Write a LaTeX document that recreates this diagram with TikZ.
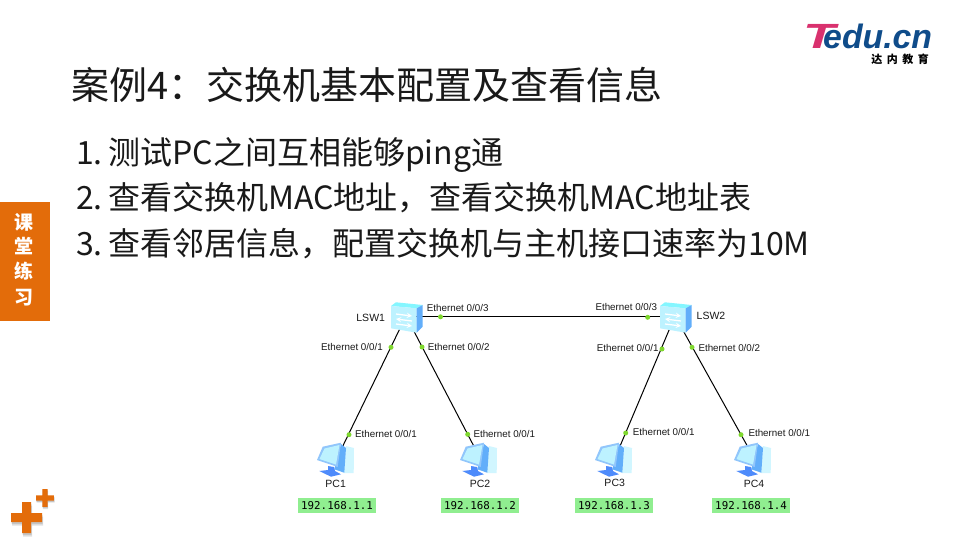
\documentclass[tikz,border=0pt]{standalone}
\usepackage{fontspec}
\usepackage{xcolor}
\setmainfont{Noto Sans CJK SC}
\newfontfamily\arialfont{Liberation Sans}
\newfontfamily\monofont{DejaVu Sans Mono}
\definecolor{sideorange}{HTML}{E36C0A}
\definecolor{ipgreen}{HTML}{90EE90}
\definecolor{portgreen}{HTML}{7FD82E}
\definecolor{logoblue}{HTML}{0F4C8A}
\definecolor{logopink}{HTML}{D9316E}
\definecolor{iconblue}{HTML}{62AEFA}
\definecolor{iconcyan}{HTML}{BDF2FF}
\tikzset{
  line/.style={draw=black,line width=1pt},
  port/.style={circle,fill=portgreen,inner sep=0pt,minimum size=5pt},
  ethlabel/.style={anchor=west,inner sep=0pt,font=\arialfont\fontsize{9.8}{10}\selectfont,text=black!90},
  devlabel/.style={inner sep=0pt,font=\arialfont\fontsize{10.5}{11}\selectfont,text=black!90},
  ipbox/.style={fill=ipgreen,minimum width=78pt,minimum height=15pt,inner sep=0pt,font=\monofont\fontsize{10.8}{11}\selectfont},
  device/.style={inner sep=0pt,minimum size=2pt},
  listline/.style={anchor=base west,inner sep=0pt,font=\fontsize{32}{34}\selectfont,text=black!90},
  sidechar/.style={inner sep=0pt,text=white,font=\bfseries\fontsize{19}{20}\selectfont},
  switchicon/.pic={
    \fill[iconcyan!70!cyan] (-10,-13.7) -- (16.7,-11) -- (10.7,-7.7) -- (-15,-10) -- cycle;
    \fill[iconcyan] (-15,-10) -- (10.7,-7.7) -- (10.7,16.7) -- (-15,12.3) -- cycle;
    \fill[iconblue] (10.7,-7.7) -- (16.7,-11) -- (16.7,10.7) -- (10.7,16.7) -- cycle;
    \draw[white,line width=1.3pt,-stealth] (-10,-2) -- (6,0);
    \draw[white,line width=1.3pt,stealth-] (-10,3) -- (6,5);
    \draw[white,line width=1.3pt,-stealth] (-10,8) -- (6,10);
  },
  pcicon/.pic={
    % tower
    \fill[iconcyan!70!white] (9,-12) -- (17,-10) -- (16.7,15) -- (7,15) -- cycle;
    \fill[iconblue] (4,-14) -- (9,-10) -- (7.3,14.7) -- (-2.7,11.3) -- cycle;
    % stand
    \fill[iconblue!80!blue] (-9,8) -- (-3,9) -- (-2,13) -- (4,16.3) -- (-6,18.7) -- (-17.7,13) -- (-9,12) -- cycle;
    % monitor
    \fill[iconblue!70] (-14.3,-11.3) -- (4,-15.3) -- (0.7,9) -- (-20,2) -- cycle;
    \fill[iconcyan] (-12.5,-9.5) -- (2.5,-13) -- (-1,6.5) -- (-17.5,1) -- cycle;
  },
  crossshape/.pic={
    \fill[black,opacity=0.12] (-14.5,-1) -- ++(11,0) -- ++(0,-11) -- ++(9,0) -- ++(0,11) -- ++(11,0) -- ++(0,9) -- ++(-11,0) -- ++(0,11) -- ++(-9,0) -- ++(0,-11) -- ++(-11,0) -- cycle;
    \fill[black,opacity=0.12] (-15,-2.5) -- ++(11,0) -- ++(0,-11) -- ++(9,0) -- ++(0,11) -- ++(11,0) -- ++(0,9) -- ++(-11,0) -- ++(0,11) -- ++(-9,0) -- ++(0,-11) -- ++(-11,0) -- cycle;
    \fill[sideorange] (-15.5,-4.5) -- ++(11,0) -- ++(0,-11) -- ++(9,0) -- ++(0,11) -- ++(11,0) -- ++(0,9) -- ++(-11,0) -- ++(0,11) -- ++(-9,0) -- ++(0,-11) -- ++(-11,0) -- cycle;
  }
}

\begin{document}
\begin{tikzpicture}[x=1pt,y=-1pt]
\useasboundingbox[fill=white] (0,0) rectangle (960,540);

% Logo
\node[inner sep=0pt,anchor=base west,xscale=1.5,transform shape,text=logopink,font=\arialfont\bfseries\itshape\fontsize{35}{35}\selectfont] (logot) at (803,49) {T};
\node[inner sep=0pt,anchor=base west,text=logoblue,font=\arialfont\bfseries\itshape\fontsize{33.8}{34}\selectfont] (logoedu) at (823,49) {edu.cn};
\node[inner sep=0pt,font=\bfseries\fontsize{11}{12}\selectfont,text=black] (logocn) at (900,59.5) {达\hspace{4.5pt}内\hspace{4.5pt}教\hspace{4.5pt}育};

% Title and list
\node[inner sep=0pt,anchor=base west,font=\fontsize{38}{40}\selectfont,text=black!90] (title) at (71,100) {案例4：交换机基本配置及查看信息};
\node[listline] (item1) at (76,164.5) {1.\hspace{5.5pt}测试PC之间互相能够ping通};
\node[listline] (item2) at (76,209.5) {2.\hspace{5.5pt}查看交换机MAC地址，查看交换机MAC地址表};
\node[listline] (item3) at (76,255.5) {3.\hspace{5.5pt}查看邻居信息，配置交换机与主机接口速率为10M};

% Side tab
\node[fill=sideorange,anchor=north west,minimum width=50pt,minimum height=119pt,inner sep=0pt] (sidetab) at (0,202) {};
\node[sidechar] (side1) at (24,222) {课};
\node[sidechar] (side2) at (24,246) {堂};
\node[sidechar] (side3) at (24,271) {练};
\node[sidechar] (side4) at (24,298) {习};

% Corner crosses
\pic at (26.5,517.5) {crossshape};
\pic[scale=0.58] at (45,498) {crossshape};

% Devices
\node[device] (lsw1) at (406,316) {};
\node[device] (lsw2) at (675,316) {};
\node[device] (pc1) at (337,458) {};
\node[device] (pc2) at (480,458) {};
\node[device] (pc3) at (615,458) {};
\node[device] (pc4) at (754,458) {};

% Links
\draw[line] (lsw1) -- (lsw2);
\draw[line] (lsw1) -- (pc1);
\draw[line] (lsw1) -- (pc2);
\draw[line] (lsw2) -- (pc3);
\draw[line] (lsw2) -- (pc4);

\pic at (lsw1) {switchicon};
\pic at (lsw2) {switchicon};
\pic at (pc1) {pcicon};
\pic at (pc2) {pcicon};
\pic at (pc3) {pcicon};
\pic at (pc4) {pcicon};

% Ports
\node[port] (p13) at (440.5,316.8) {};
\node[port] (p11) at (391,347.3) {};
\node[port] (p12) at (422,347) {};
\node[port] (p23) at (647.7,317.3) {};
\node[port] (p21) at (662,349) {};
\node[port] (p22) at (692,347.3) {};
\node[port] (q1) at (349,434.7) {};
\node[port] (q2) at (467.7,434.3) {};
\node[port] (q3) at (625.7,433) {};
\node[port] (q4) at (741,434.7) {};

% Port labels
\node[ethlabel] (l13) at (426.7,308) {Ethernet 0/0/3};
\node[ethlabel] (l11) at (321,347) {Ethernet 0/0/1};
\node[ethlabel] (l12) at (427.7,347) {Ethernet 0/0/2};
\node[ethlabel] (l23) at (595.3,307) {Ethernet 0/0/3};
\node[ethlabel] (l21) at (596.7,348) {Ethernet 0/0/1};
\node[ethlabel] (l22) at (698.3,347.5) {Ethernet 0/0/2};
\node[ethlabel] (m1) at (355,434) {Ethernet 0/0/1};
\node[ethlabel] (m2) at (473.3,434) {Ethernet 0/0/1};
\node[ethlabel] (m3) at (632.7,431.5) {Ethernet 0/0/1};
\node[ethlabel] (m4) at (748.3,433) {Ethernet 0/0/1};

% Device labels
\node[devlabel] (nlsw1) at (370.7,318) {LSW1};
\node[devlabel] (nlsw2) at (711,316) {LSW2};
\node[devlabel] (npc1) at (335.7,484) {PC1};
\node[devlabel] (npc2) at (480,484) {PC2};
\node[devlabel] (npc3) at (614.7,483) {PC3};
\node[devlabel] (npc4) at (754,484) {PC4};

% Addresses
\node[ipbox] (ip1) at (337,505.5) {192.168.1.1};
\node[ipbox] (ip2) at (480,505.5) {192.168.1.2};
\node[ipbox] (ip3) at (614,505.5) {192.168.1.3};
\node[ipbox] (ip4) at (751,505.5) {192.168.1.4};
\end{tikzpicture}
\end{document}
